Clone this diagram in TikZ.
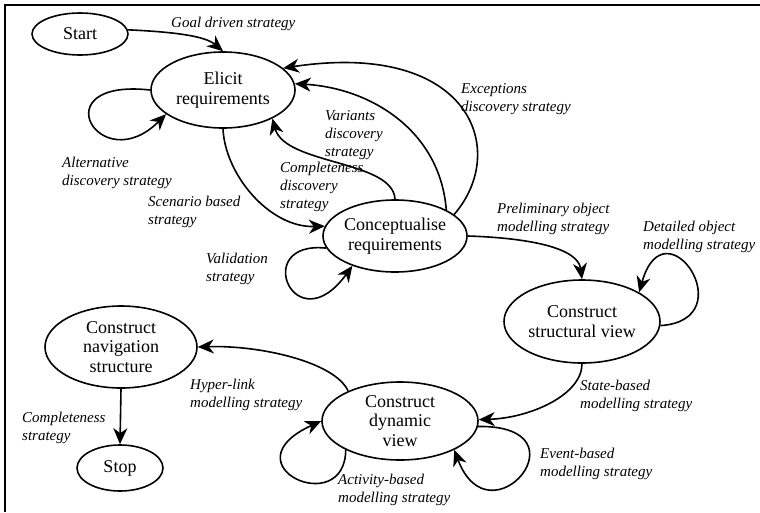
\documentclass[tikz,border=0pt]{standalone}
\usepackage{fontspec}
\setmainfont{Liberation Serif}
\usetikzlibrary{shapes.geometric,arrows.meta}

\begin{document}
\begin{tikzpicture}[x=1pt,y=-1pt,
  state/.style={ellipse, draw, line width=1.6pt, inner sep=0pt},
  stxt/.style={font=\fontsize{18}{19.5}\selectfont, align=center, inner sep=0pt},
  lbl/.style={font=\fontsize{15}{18}\selectfont\itshape, align=left, anchor=base west, inner sep=0pt},
  flow/.style={line width=1.6pt, -{Stealth[length=16pt,width=14pt,inset=5pt]}},
]
\useasboundingbox (0,0) rectangle (760,512);

% frame
\draw[line width=1.6pt] (5,512) -- (5,5) -- (760,5);

% states
\node[state, minimum width=96pt,  minimum height=42pt, label={[stxt]center:Start}] (start) at (80,34) {};
\node[state, minimum width=144pt, minimum height=76pt, label={[stxt]center:Elicit\\requirements}] (elicit) at (223,90) {};
\node[state, minimum width=144pt, minimum height=72pt, label={[stxt]center:Conceptualise\\requirements}] (concept) at (395,236) {};
\node[state, minimum width=156pt, minimum height=83pt, label={[stxt]center:Construct\\structural view}] (struct) at (582,321.5) {};
\node[state, minimum width=156pt, minimum height=78pt, label={[stxt]center:Construct\\dynamic\\view}] (dyn) at (400,421) {};
\node[state, minimum width=152pt, minimum height=82pt, label={[stxt]center:Construct\\navigation\\structure}] (nav) at (121,347) {};
\node[state, minimum width=86pt,  minimum height=46pt, label={[stxt]center:Stop}] (stop) at (120,468) {};

% strategies
\draw[flow] (start.5) .. controls (175,32) and (205,36) .. (elicit.north);
\draw[flow] (elicit.180) .. controls (40,78) and (100,180) .. (elicit.203);
\draw[flow] (elicit.-90) .. controls (225,175) and (270,228) .. (concept.172);
\draw[flow] (concept.190) .. controls (250,240) and (295,345) .. (concept.215);
\draw[flow] (concept.north) .. controls (393,160) and (285,165) .. (elicit.-30);
\draw[flow] (concept.27) .. controls (440,130) and (370,88) .. (elicit.5);
\draw[flow] (concept.20) .. controls (510,150) and (470,40) .. (elicit.20);
\draw[flow] (concept.east) .. controls (530,238) and (578,248) .. (struct.north);
\draw[flow] (struct.-3) .. controls (745,320) and (665,200) .. (struct.27);
\draw[flow] (struct.south) .. controls (582,395) and (530,418) .. (dyn.1);
\draw[flow] (dyn.-4) .. controls (590,425) and (490,545) .. (dyn.-28);
\draw[flow] (dyn.208) .. controls (345,520) and (225,465) .. (dyn.west);
\draw[flow] (dyn.150) .. controls (335,362) and (260,345) .. (nav.east);
\draw[flow] (nav.south) -- (stop.north);

% strategy labels (positioned by the baseline of their last line)
\node[lbl] (l-goal) at (171,27)  {Goal driven strategy};
\node[lbl] (l-alt)  at (62,185)  {Alternative\\discovery strategy};
\node[lbl] (l-scen) at (148,224) {Scenario based\\strategy};
\node[lbl] (l-comp) at (280,208) {Completeness\\discovery\\strategy};
\node[lbl] (l-var)  at (325,156) {Variants\\discovery\\strategy};
\node[lbl] (l-exc)  at (461,111) {Exceptions\\discovery strategy};
\node[lbl] (l-pre)  at (497,231) {Preliminary object\\modelling strategy};
\node[lbl] (l-det)  at (643,249) {Detailed object\\modelling strategy};
\node[lbl] (l-val)  at (206,281) {Validation\\strategy};
\node[lbl] (l-hyp)  at (190,407) {Hyper-link\\modelling strategy};
\node[lbl] (l-cs)   at (22,440)  {Completeness\\strategy};
\node[lbl] (l-st)   at (580,408) {State-based\\modelling strategy};
\node[lbl] (l-ev)   at (540,476) {Event-based\\modelling strategy};
\node[lbl] (l-act)  at (338,502) {Activity-based\\modelling strategy};
\end{tikzpicture}
\end{document}
